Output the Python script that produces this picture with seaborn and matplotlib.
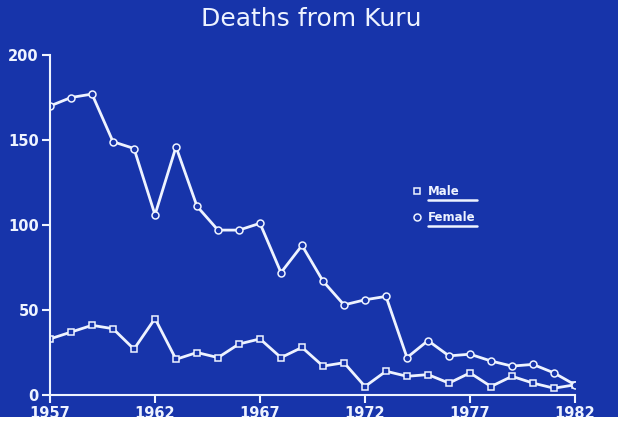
import numpy as np
import pandas as pd
import seaborn as sns
import matplotlib.pyplot as plt
from matplotlib.lines import Line2D
from matplotlib.patches import Rectangle

# Values
years = list(range(1957, 1983))
female = [170, 175, 177, 149, 145, 106, 146, 111, 97, 97, 101, 72, 88, 67,
          53, 56, 58, 22, 32, 23, 24, 20, 17, 18, 13, 6]
male = [33, 37, 41, 39, 27, 45, 21, 25, 22, 30, 33, 22, 28, 17,
        19, 5, 14, 11, 12, 7, 13, 5, 11, 7, 4, 6]
x_ticks = [1957, 1962, 1967, 1972, 1977, 1982]
y_ticks = [0, 50, 100, 150, 200]

df = pd.DataFrame({
    "year": years * 2,
    "deaths": male + female,
    "sex": ["Male"] * len(years) + ["Female"] * len(years),
})

bg = "#1734aa"
fg = "#eef3ff"

sns.set_theme(style="ticks")
plt.rcParams["font.family"] = ["DejaVu Sans"]

fig = plt.figure(figsize=(6.23, 4.22), dpi=100, facecolor=bg)
ax = fig.add_axes([50 / 623, 27 / 422, 525 / 623, 340 / 422])
ax.set_facecolor(bg)

sns.lineplot(data=df, x="year", y="deaths", hue="sex", style="sex",
             markers={"Male": "s", "Female": "o"}, dashes=False,
             palette={"Male": fg, "Female": fg}, linewidth=2,
             markersize=5, markerfacecolor=bg, markeredgecolor=fg,
             markeredgewidth=1.1, legend=False, ax=ax)

ax.set_xlim(1957, 1982)
ax.set_ylim(0, 200)
ax.set_xticks(x_ticks)
ax.set_yticks(y_ticks)
ax.set_xlabel("")
ax.set_ylabel("")
sns.despine(ax=ax)
for side in ["left", "bottom"]:
    ax.spines[side].set_color(fg)
    ax.spines[side].set_linewidth(1.5)
ax.tick_params(colors=fg, width=1.5, length=6, pad=2, labelsize=10.5)
for lbl in ax.get_xticklabels() + ax.get_yticklabels():
    lbl.set_fontweight("bold")

fig.text(0.5, 0.955, "Deaths from Kuru", ha="center", va="center",
         color=fg, fontsize=18)

handles = [
    Line2D([], [], linestyle="none", marker="s", markersize=5,
           markerfacecolor=bg, markeredgecolor=fg, markeredgewidth=1.1),
    Line2D([], [], linestyle="none", marker="o", markersize=5,
           markerfacecolor=bg, markeredgecolor=fg, markeredgewidth=1.1),
]
leg = ax.legend(handles, ["Male", "Female"], loc="center left",
                bbox_to_anchor=(0.67, 0.56), frameon=False,
                handlelength=0.8, handletextpad=0.5, labelspacing=1.1,
                prop={"weight": "bold", "size": 8.5})
for t in leg.get_texts():
    t.set_color(fg)

# underline the legend labels, all to the same length
fig.canvas.draw()
inv = fig.transFigure.inverted()
boxes = [t.get_window_extent() for t in leg.get_texts()]
right = max(bb.x1 for bb in boxes) + 2
for bb in boxes:
    (x0, y0), (x1, _) = inv.transform([(bb.x0, bb.y0), (right, bb.y1)])
    fig.add_artist(Line2D([x0, x1], [y0 - 0.005, y0 - 0.005], color=fg, lw=1.8))

# white slide edge at the bottom and right
fig.add_artist(Rectangle((0, 0), 1, 5 / 422, transform=fig.transFigure,
                         facecolor="white", edgecolor="none", zorder=10))
fig.add_artist(Rectangle((618 / 623, 0), 5 / 623, 1, transform=fig.transFigure,
                         facecolor="white", edgecolor="none", zorder=10))

fig.savefig("out.png", dpi=100, facecolor=bg)
